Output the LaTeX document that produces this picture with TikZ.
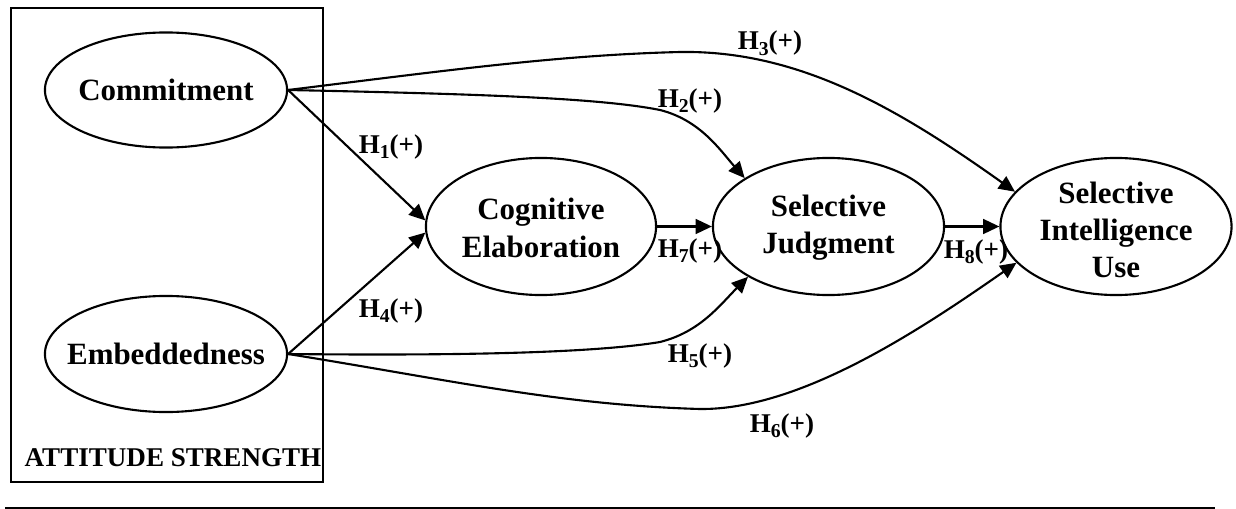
\documentclass[tikz,border=0pt]{standalone}
\usepackage{fontspec}
\setmainfont{Liberation Serif}
\usetikzlibrary{shapes.geometric,arrows.meta}

% indice des hypotheses
\newcommand{\hind}[1]{\raisebox{-1.7pt}{\fontsize{5.6}{6}\selectfont #1}}

\begin{document}
\begin{tikzpicture}[x=0.01cm, y=0.01cm, line width=0.6pt,
    etat/.style={draw, ellipse, inner sep=0pt},
    texte/.style={align=center, font=\fontsize{8.8}{10.6}\selectfont\bfseries},
    hyp/.style={font=\fontsize{7.7}{9}\selectfont\bfseries, inner sep=0pt, anchor=base},
    fleche/.style={-{Triangle[length=4.6pt, width=4.2pt]}}]
    \useasboundingbox (0,0) rectangle (1236,-509);

    % Cadre ATTITUDE STRENGTH
    \draw (11,-8) rectangle (323,-482);
    \node[hyp] (as) at (173,-466) {ATTITUDE STRENGTH};

    % Variables a gauche
    \node[etat, minimum width=2.42cm, minimum height=1.15cm] (com) at (166,-90) {};
    \node[texte] (com-t) at (com) {Commitment};
    \node[etat, minimum width=2.42cm, minimum height=1.16cm] (emb) at (166,-354) {};
    \node[texte] (emb-t) at (emb) {Embeddedness};

    % Variables centrales et a droite
    \node[etat, minimum width=2.3cm, minimum height=1.37cm] (ce) at (541,-226.5) {};
    \node[texte] (ce-t) at (541,-228) {Cognitive\\Elaboration};
    \node[etat, minimum width=2.31cm, minimum height=1.37cm] (sj) at (828.5,-226.5) {};
    \node[texte] (sj-t) at (828.5,-228) {Selective\\Judgment};
    \node[etat, minimum width=2.31cm, minimum height=1.37cm] (siu) at (1116,-226.5) {};
    \node[texte] (siu-t) at (1116,-230) {Selective\\Intelligence\\Use};

    % Fleches droites
    \draw[fleche] (com.east) -- (ce.177);
    \draw[fleche] (emb.east) -- (ce.183);
    \draw[fleche] (ce.east) -- (sj.west);
    \draw[fleche] (sj.east) -- (siu.west);

    % Fleches courbes
    \draw[fleche] (com.east) .. controls (480,-94) and (600,-98) .. (660,-110)
        .. controls (700,-120) and (720,-150) .. (sj.150);
    \draw[fleche] (com.east) .. controls (450,-70) and (560,-55) .. (680,-52)
        .. controls (800,-50) and (900,-110) .. (siu.161);
    \draw[fleche] (emb.east) .. controls (480,-356) and (600,-352) .. (660,-342)
        .. controls (700,-332) and (720,-305) .. (sj.212);
    \draw[fleche] (emb.east) .. controls (450,-380) and (560,-405) .. (700,-409)
        .. controls (800,-410) and (920,-330) .. (siu.200);

    % Hypotheses
    \node[hyp] (h1) at (391,-153) {H\hind{1}(+)};
    \node[hyp] (h2) at (690,-107) {H\hind{2}(+)};
    \node[hyp] (h3) at (770,-50) {H\hind{3}(+)};
    \node[hyp] (h4) at (391,-317) {H\hind{4}(+)};
    \node[hyp] (h5) at (700,-362) {H\hind{5}(+)};
    \node[hyp] (h6) at (782,-432) {H\hind{6}(+)};
    \node[hyp] (h7) at (690,-257) {H\hind{7}(+)};
    \node[hyp] (h8) at (976,-258) {H\hind{8}(+)};

    % Trait du bas
    \draw[line width=0.4pt] (5,-508) -- (1215,-508);
\end{tikzpicture}
\end{document}
